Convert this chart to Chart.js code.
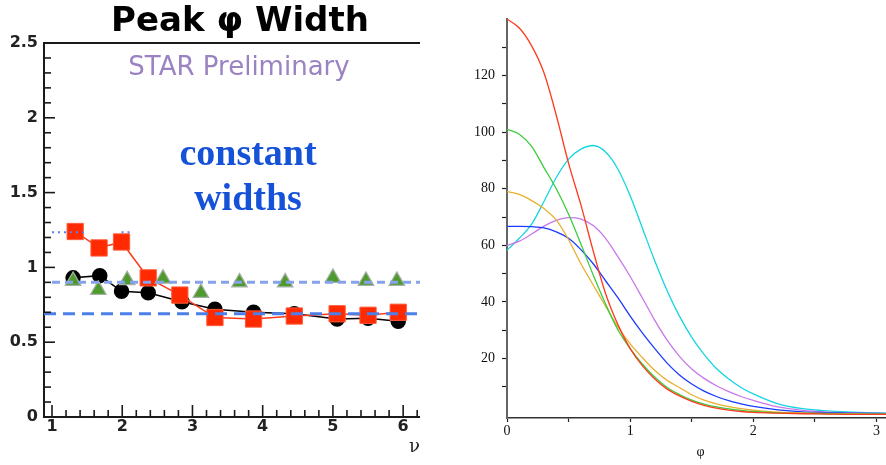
<!DOCTYPE html>
<html><head><meta charset="utf-8">
<script src="https://cdn.jsdelivr.net/npm/chart.js@4.4.0/dist/chart.umd.min.js"></script>
<style>
html,body{margin:0;padding:0;background:#fff;overflow:hidden;width:886px;height:465px;}
canvas{position:absolute;top:0;}
#left{left:0;} #right{left:460px;}
</style></head><body>
<canvas id="left" width="420" height="465"></canvas>
<canvas id="right" width="440" height="465"></canvas>
<script>
// ---------- Left panel: Peak phi width vs nu ----------
const nuRed      = [1.33, 1.67, 1.99, 2.37, 2.82, 3.32, 3.87, 4.45, 5.06, 5.50, 5.93];
const widthRed   = [1.24, 1.13, 1.17, 0.93, 0.815, 0.665, 0.655, 0.675, 0.69, 0.68, 0.70];
const nuBlack    = [1.30, 1.68, 1.99, 2.37, 2.85, 3.32, 3.87, 4.45, 5.06, 5.50, 5.93];
const widthBlack = [0.93, 0.945, 0.84, 0.83, 0.77, 0.72, 0.70, 0.69, 0.655, 0.66, 0.64];
const nuGreen    = [1.30, 1.66, 2.07, 2.58, 3.12, 3.67, 4.32, 5.00, 5.47, 5.91];
const widthGreen = [0.91, 0.85, 0.915, 0.925, 0.83, 0.90, 0.90, 0.93, 0.91, 0.91];
// horizontal reference fits
const fitLevels = [0.69, 0.90, 1.235];
const fitStarts = [0.886, 1.0, 1.0];
const fitEnds   = [6.24, 6.24, 2.11];
const fitGapFrom = 1.47, fitGapTo = 1.99;   // gap in the dotted fit
const leftYTicks = [0,0.1,0.2,0.3,0.4,0.5,0.6,0.7,0.8,0.9,1,1.1,1.2,1.3,1.4,1.5,1.6,1.7,1.8,1.9,2,2.1,2.2,2.3,2.4,2.5];
const leftXTicks = [1,1.2,1.4,1.6,1.8,2,2.2,2.4,2.6,2.8,3,3.2,3.4,3.6,3.8,4,4.2,4.4,4.6,4.8,5,5.2,5.4,5.6,5.8,6,6.2];

// ---------- Right panel: curves vs phi ----------
const phi    = [0,0.1,0.2,0.3,0.4,0.5,0.6,0.7,0.8,0.9,1.0,1.1,1.2,1.3,1.4,1.5,1.6,1.7,1.8,1.9,2.0,2.2,2.4,2.6,2.8,3.0,3.2];
const cRed   = [140,136.8,130.5,121,106,89,74.3,58,43,32,23.5,17.4,12.8,9.2,6.8,4.9,3.5,2.5,1.8,1.3,1.0,0.7,0.5,0.4,0.3,0.3,0.3];
const cGreen = [101,99.3,95,87.5,80,71,60.5,49.5,39.3,30.2,23.5,18,13.4,9.8,7.3,5.3,3.9,2.9,2.2,1.7,1.3,0.8,0.6,0.5,0.4,0.4,0.4];
const cOrange= [79,78,75.8,73,69,62,53.5,46,38.5,31.2,25.2,20.3,15.8,12.3,9.8,7.2,5.3,4,3,2.3,1.8,1.1,0.8,0.6,0.5,0.4,0.4];
const cBlue  = [66.7,66.7,66.6,66.2,64.8,62.5,58.5,53.5,47.5,41.5,35,29,23.5,18.4,14.2,11,8.5,6.6,5.1,4,3.1,1.9,1.2,0.9,0.7,0.6,0.5];
const cPurple= [60,61.5,64,66.8,68.8,69.8,69.3,67,62.5,56,49,41.3,33.5,26.5,20.8,16.3,13.0,10.4,8.3,6.6,5.2,2.9,1.7,1.1,0.8,0.6,0.5];
const cCyan  = [58.3,62.5,67.5,75.5,84,90.5,94,95.3,93,87,77.5,66,54.5,44,35,27.5,21.5,16.5,12.8,9.8,7.5,4,2.3,1.5,1.1,0.8,0.7];
const rightXTicks = [0,0.5,1,1.5,2,2.5,3];
const rightYTicks = [10,20,30,40,50,60,70,80,90,100,110,120,130];

const xy = (xs, ys) => xs.map((v,i)=>({x:v, y:ys[i]}));

// ---------------- Left chart ----------------
const leftDecor = {
  id:'leftDecor',
  afterDraw(chart){
    const {ctx, chartArea:a, scales:{x,y}} = chart;
    ctx.save();
    ctx.strokeStyle='#1a1a1a';
    ctx.lineWidth=2;
    ctx.beginPath(); ctx.moveTo(a.left, a.top); ctx.lineTo(a.right, a.top); ctx.stroke();
    ctx.lineWidth=1.6;
    x.ticks.forEach(t=>{
      const px=x.getPixelForValue(t.value);
      const major=Math.abs(t.value-Math.round(t.value))<1e-6;
      ctx.beginPath(); ctx.moveTo(px,a.bottom); ctx.lineTo(px,a.bottom-(major?12:7)); ctx.stroke();
    });
    y.ticks.forEach(t=>{
      const py=y.getPixelForValue(t.value);
      const major=Math.abs(t.value*2-Math.round(t.value*2))<1e-6;
      ctx.beginPath(); ctx.moveTo(a.left,py); ctx.lineTo(a.left+(major?11:7),py); ctx.stroke();
    });
    ctx.textAlign='center';
    ctx.textBaseline='alphabetic';
    ctx.fillStyle='#000';
    ctx.font='bold 34px "DejaVu Sans"';
    ctx.fillText('Peak φ Width', 240, 31);
    ctx.fillStyle='#9b82c2';
    ctx.font='26px "DejaVu Sans"';
    ctx.fillText('STAR Preliminary', 239, 75);
    ctx.fillStyle='#1652d8';
    ctx.font='bold 38px "Liberation Serif"';
    ctx.fillText('constant', 248, 165);
    ctx.fillText('widths', 248, 210);
    ctx.restore();
  }
};

const fitData = (k) => {
  if (k === 2) return [{x:fitStarts[k],y:fitLevels[k]},{x:fitGapFrom,y:fitLevels[k]},{x:(fitGapFrom+fitGapTo)/2,y:null},{x:fitGapTo,y:fitLevels[k]},{x:fitEnds[k],y:fitLevels[k]}];
  return [{x:fitStarts[k],y:fitLevels[k]},{x:fitEnds[k],y:fitLevels[k]}];
};

new Chart(document.getElementById('left'), {
  type:'line',
  data:{datasets:[
    {label:'const fit', data:fitData(0), borderColor:'#4d7fe9', borderWidth:3, borderDash:[12,7], pointRadius:0, order:0},
    {label:'triangle fit', data:fitData(1), borderColor:'#86a2ea', borderWidth:3, borderDash:[8,5], pointRadius:0, order:0},
    {label:'square fit', data:fitData(2), borderColor:'#5a7ff0', borderWidth:2, borderDash:[2,4], pointRadius:0, spanGaps:false, order:0},
    {label:'triangles', data:xy(nuGreen,widthGreen), showLine:false, pointStyle:'triangle', pointRadius:9, backgroundColor:'#4f9a2d', borderColor:'#a4b0a4', borderWidth:1.2, order:1},
    {label:'squares', data:xy(nuRed,widthRed), borderColor:'#ff3a1a', borderWidth:1.5, pointStyle:'rect', pointRadius:11.5, pointBackgroundColor:'#ff2a00', pointBorderColor:'#ff5a3a', pointBorderWidth:1, order:2},
    {label:'circles', data:xy(nuBlack,widthBlack), borderColor:'#000', borderWidth:1.5, pointStyle:'circle', pointRadius:7, pointBackgroundColor:'#000', pointBorderColor:'#000', order:3}
  ]},
  options:{
    responsive:false, animation:false, devicePixelRatio:1,
    layout:{autoPadding:false, padding:{top:43,left:0,right:0,bottom:0}},
    plugins:{legend:{display:false}, tooltip:{enabled:false}},
    scales:{
      x:{type:'linear', min:0.886, max:6.24,
        afterBuildTicks:s=>{s.ticks=leftXTicks.map(v=>({value:v}));},
        afterFit:s=>{s.height=48;},
        grid:{display:false, drawTicks:false},
        border:{display:true, color:'#1a1a1a', width:2},
        ticks:{autoSkip:false, maxRotation:0, padding:2, color:'#222',
          font:{family:'"DejaVu Sans"', weight:'bold', size:16, lineHeight:1},
          callback:v=>Math.abs(v-Math.round(v))<1e-6 ? String(Math.round(v)) : ''},
        title:{display:true, text:'ν', align:'end', color:'#222', font:{family:'"DejaVu Serif"', size:18, lineHeight:1.2}, padding:{top:0,bottom:7}}
      },
      y:{type:'linear', min:0, max:2.5,
        afterBuildTicks:s=>{s.ticks=leftYTicks.map(v=>({value:v}));},
        afterFit:s=>{s.width=44;},
        grid:{display:false, drawTicks:false},
        border:{display:true, color:'#1a1a1a', width:2},
        ticks:{autoSkip:false, padding:6, color:'#222',
          font:{family:'"DejaVu Sans"', weight:'bold', size:16},
          callback:v=>Math.abs(v*2-Math.round(v*2))<1e-6 ? String(Math.round(v*2)/2) : ''}
      }
    }
  },
  plugins:[leftDecor]
});

// ---------------- Right chart ----------------
const curve = (ys, color) => ({data:xy(phi,ys), borderColor:color, borderWidth:1.3, pointRadius:0, fill:false, cubicInterpolationMode:'monotone'});

new Chart(document.getElementById('right'), {
  type:'line',
  data:{datasets:[
    Object.assign(curve(cRed,'#ff3a1e'),{label:'red'}),
    Object.assign(curve(cGreen,'#3ccc3c'),{label:'green'}),
    Object.assign(curve(cOrange,'#e8b030'),{label:'orange'}),
    Object.assign(curve(cBlue,'#1a3cff'),{label:'blue'}),
    Object.assign(curve(cPurple,'#c878ea'),{label:'purple'}),
    Object.assign(curve(cCyan,'#14d6e0'),{label:'cyan'})
  ]},
  options:{
    responsive:false, animation:false, devicePixelRatio:1,
    layout:{autoPadding:false, padding:{top:19,left:0,right:6,bottom:0}},
    plugins:{legend:{display:false}, tooltip:{enabled:false}},
    scales:{
      x:{type:'linear', min:0, max:Math.PI,
        afterBuildTicks:s=>{s.ticks=rightXTicks.map(v=>({value:v}));},
        afterFit:s=>{s.height=47;},
        grid:{display:true, drawOnChartArea:false, drawTicks:true, tickLength:4, tickColor:'#222', tickWidth:1.2},
        border:{display:true, color:'#333', width:1.5},
        ticks:{autoSkip:false, maxRotation:0, padding:1, color:'#111',
          font:{family:'"Liberation Serif"', size:14},
          callback:v=>Math.abs(v-Math.round(v))<1e-6 ? String(Math.round(v)) : ''},
        title:{display:true, text:'φ', color:'#111', font:{family:'"Liberation Serif"', size:14}, padding:{top:0,bottom:4}}
      },
      y:{type:'linear', min:-1, max:140,
        afterBuildTicks:s=>{s.ticks=rightYTicks.map(v=>({value:v}));},
        afterFit:s=>{s.width=47;},
        grid:{display:true, drawOnChartArea:false, drawTicks:true, tickLength:5, tickColor:'#222', tickWidth:1.2},
        border:{display:true, color:'#666', width:2},
        ticks:{autoSkip:false, padding:7, color:'#111',
          font:{family:'"Liberation Serif"', size:14},
          callback:v=>v%20===0 ? String(v) : ''}
      }
    }
  }
});
</script>
</body></html>
